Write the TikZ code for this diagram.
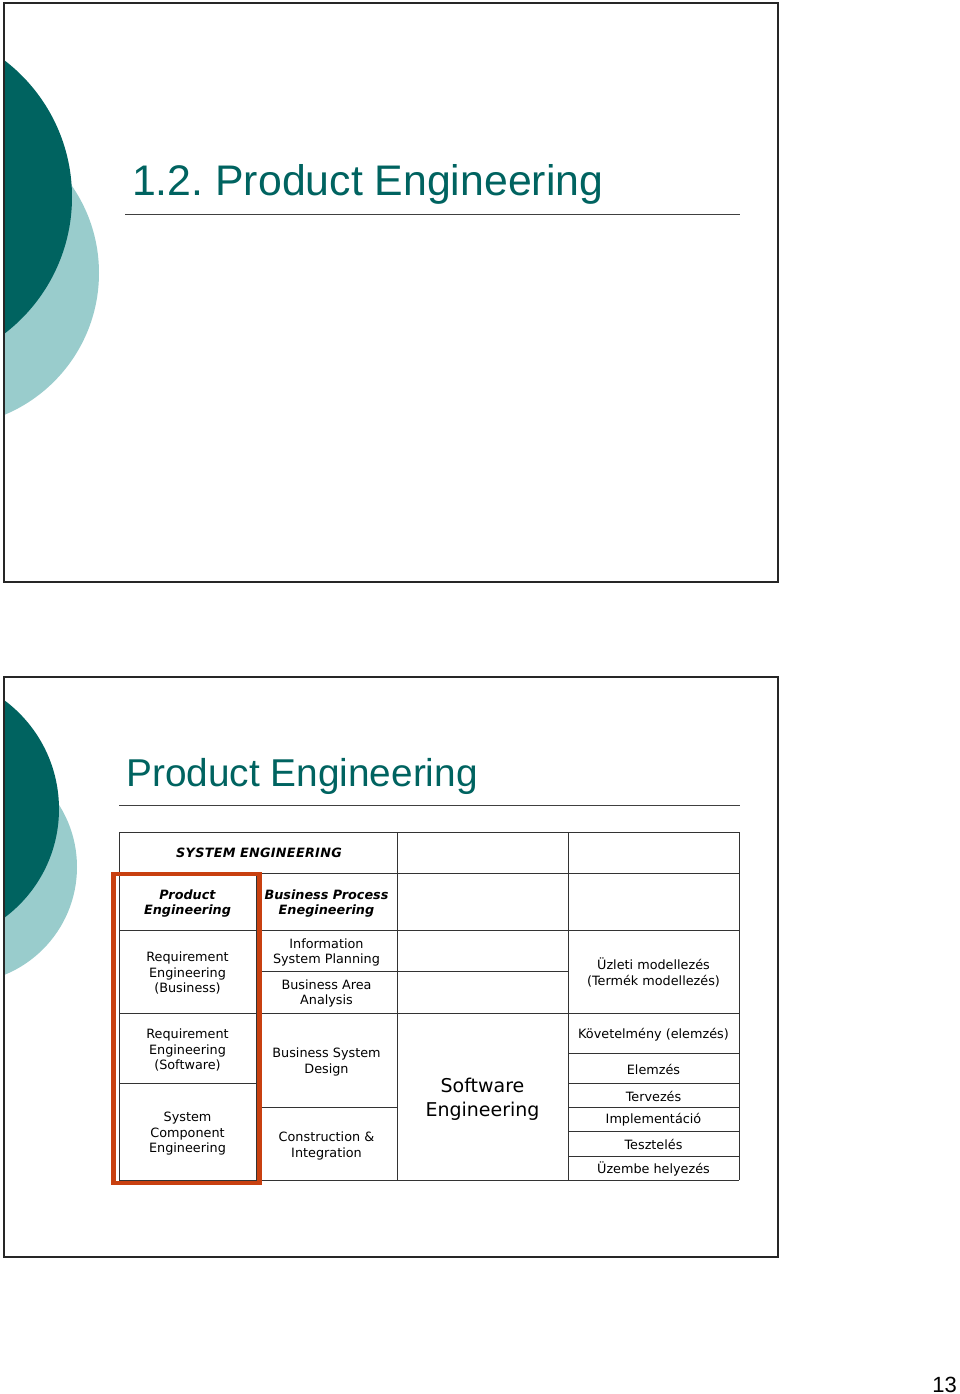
\documentclass[tikz,border=0pt]{standalone}
\usepackage{fontspec}
\setmainfont{DejaVu Sans}
\newfontfamily\slidefont{Liberation Sans}
\definecolor{tealdark}{RGB}{0,99,96}
\definecolor{teallight}{RGB}{153,204,204}
\definecolor{boxred}{RGB}{200,64,16}
\frenchspacing

\begin{document}
\begin{tikzpicture}[x=1pt,y=-1pt,
    celltext/.style={align=center,inner sep=0pt,font=\fontsize{12.8}{15.5}\selectfont},
    headtext/.style={celltext,font=\fontsize{12.8}{15.5}\selectfont\bfseries\itshape},
    gridline/.style={line width=1pt,color=black!80},
    frame/.style={line width=2pt,color=black!85}] %Dos diapositivas
        \useasboundingbox (0,0) rectangle (960,1394);

        % diapositiva 1
        \begin{scope}
            \clip (4,3) rectangle (778,582);
            \fill[teallight] (-54.6,273) circle (153.6pt);
            \fill[tealdark] (-100,197) circle (172pt);
        \end{scope}
        \draw[frame] (3.5,3) rectangle (777.5,582);
        \node[anchor=base west,inner sep=0pt,text=tealdark,font=\slidefont\fontsize{42.8}{50}\selectfont] (title1) at (132,195) {1.2. Product Engineering};
        \draw[line width=0.9pt,black!75] (125,214) -- (740,214);

        % diapositiva 2
        \begin{scope}
            \clip (4,677) rectangle (778,1257);
            \fill[teallight] (-39.4,867) circle (116.4pt);
            \fill[tealdark] (-76.5,809) circle (135.5pt);
        \end{scope}
        \draw[frame] (3.5,677) rectangle (777.5,1257);
        \node[anchor=base west,inner sep=0pt,text=tealdark,font=\slidefont\fontsize{38.8}{44}\selectfont] (title2) at (126,786) {Product Engineering};
        \draw[line width=0.9pt,black!75] (119,805) -- (740,805);

        % tabla
        \draw[gridline] (119,832) -- (739,832);
        \draw[gridline] (119,873) -- (739,873);
        \draw[gridline] (119,930) -- (739,930);
        \draw[gridline] (256,971) -- (568,971);
        \draw[gridline] (119,1013) -- (739,1013);
        \draw[gridline] (119,1083) -- (256,1083);
        \draw[gridline] (256,1107) -- (397,1107);
        \draw[gridline] (568,1053) -- (739,1053);
        \draw[gridline] (568,1083) -- (739,1083);
        \draw[gridline] (568,1107) -- (739,1107);
        \draw[gridline] (568,1131) -- (739,1131);
        \draw[gridline] (568,1156) -- (739,1156);
        \draw[gridline] (119,1180) -- (739,1180);
        \draw[gridline] (119,832) -- (119,1180);
        \draw[gridline] (256,873) -- (256,1180);
        \draw[gridline] (397,832) -- (397,1180);
        \draw[gridline] (568,832) -- (568,1180);
        \draw[gridline] (739,832) -- (739,1180);

        \draw[boxred,line width=4.5pt] (113.7,874) rectangle (259.5,1183);

        \node[headtext] (syseng) at (259,853) {S\kern0.3pt Y\kern0.3pt S\kern0.3pt T\kern0.3pt E\kern0.3pt M E\kern0.3pt N\kern0.3pt G\kern0.3pt I\kern0.3pt N\kern0.3pt E\kern0.3pt E\kern0.3pt R\kern0.3pt I\kern0.3pt N\kern0.3pt G};
        \node[headtext] (prodeng) at (187.5,903.5) {Product\\Engineering};
        \node[headtext] (bpe) at (326.5,903.5) {Business Process\\Enegineering};

        \node[celltext] (reqbus) at (187.5,973) {Requirement\\Engineering\\(Business)};
        \node[celltext] (isp) at (326.5,952.5) {Information\\System Planning};
        \node[celltext] (baa) at (326.5,993.5) {Business Area\\Analysis};
        \node[celltext] (uzleti) at (653.5,972.5) {Üzleti modellezés\\(Termék modellezés)};

        \node[celltext] (reqsw) at (187.5,1050) {Requirement\\Engineering\\(Software)};
        \node[celltext] (syscomp) at (187.5,1134) {System\\Component\\Engineering};
        \node[celltext] (bsd) at (326.5,1062) {Business System\\Design};
        \node[celltext] (consint) at (326.5,1146) {Construction \&\\Integration};
        \node[celltext,font=\fontsize{19}{24}\selectfont] (sweng) at (482.5,1099) {Software\\Engineering};

        \node[celltext] (kovet) at (653.5,1034.5) {Követelmény (elemzés)};
        \node[celltext] (elemzes) at (653.5,1069) {Elemzés};
        \node[celltext] (tervezes) at (653.5,1096) {Tervezés};
        \node[celltext] (impl) at (653.5,1120) {Implementáció};
        \node[celltext] (teszt) at (653.5,1144) {Tesztelés};
        \node[celltext] (uzembe) at (653.5,1169) {Üzembe helyezés};

        \node[anchor=base east,inner sep=0pt,font=\slidefont\fontsize{22}{26}\selectfont] (pagenum) at (957,1392) {13};
    \end{tikzpicture}
\end{document}
